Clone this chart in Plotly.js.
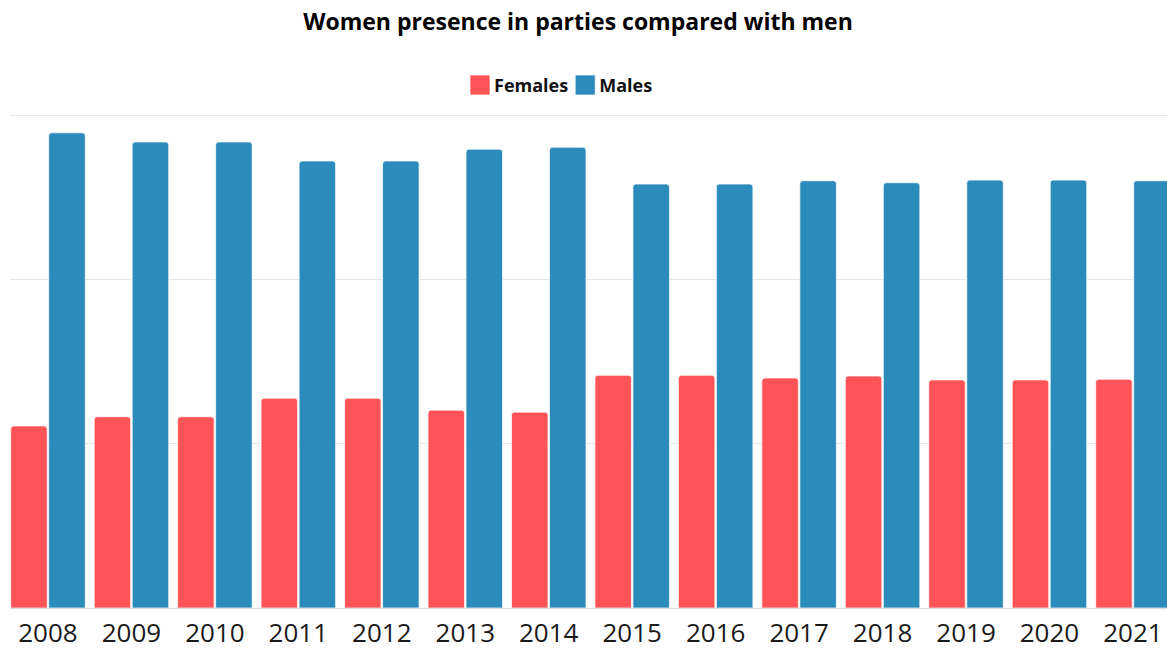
<!DOCTYPE html>
<html>
<head>
<meta charset="utf-8">
<script src="https://cdn.plot.ly/plotly-3.0.1.min.js"></script>
<style>html,body{margin:0;padding:0;background:#fff;}#chart{width:1167px;height:649px;}</style>
</head>
<body>
<div id="chart"></div>
<script>
const years = ["2008","2009","2010","2011","2012","2013","2014","2015","2016","2017","2018","2019","2020","2021"];
const females = [27.7, 29.1, 29.1, 31.9, 31.9, 30.1, 29.8, 35.4, 35.4, 35.0, 35.3, 34.7, 34.7, 34.8];
const males = [72.3, 70.9, 70.9, 68.0, 68.0, 69.8, 70.1, 64.5, 64.5, 65.0, 64.7, 65.1, 65.1, 65.0];

const traces = [
  {type:'bar', name:'Females', x:years, y:females,
   marker:{color:'#FF5457', cornerradius:3, line:{color:'rgba(255,255,255,0.7)', width:1}}},
  {type:'bar', name:'Males', x:years, y:males,
   marker:{color:'#2B8BBB', cornerradius:3, line:{color:'rgba(255,255,255,0.7)', width:1}}}
];

const layout = {
  width:1167, height:649,
  margin:{l:10, r:0, t:108, b:41},
  paper_bgcolor:'#fff', plot_bgcolor:'#fff',
  font:{family:'"Open Sans", sans-serif', color:'#111'},
  title:{text:'<b>Women presence in parties compared with men</b>', x:578/1167, xref:'container', xanchor:'center',
         y:1-22/649, yref:'container', yanchor:'middle', font:{size:23, color:'#000'}},
  showlegend:true,
  legend:{orientation:'h', x:0.478, xanchor:'center', y:1-84/649, yref:'container', yanchor:'middle',
          font:{size:18, color:'#111', weight:'bold'}, itemwidth:30, traceorder:'normal'},
  barmode:'group', bargap:0.089, bargroupgap:0.04,
  xaxis:{type:'category', range:[-0.455, 13.408], showgrid:false, showline:false, ticks:'',
         tickfont:{size:26, color:'#1a1a1a'}, ticklabelstandoff:7, fixedrange:true},
  yaxis:{range:[0, 76.07], tickvals:[0,25,50,75], showticklabels:false, showgrid:true, gridcolor:'#e6e6e6', gridwidth:1,
         zeroline:true, zerolinecolor:'#dcdcdc', zerolinewidth:1, showline:false, ticks:''}
};

function parseT(el){
  const m = /translate\(\s*([-\d.e]+)[ ,]+([-\d.e]+)\s*\)/.exec(el.getAttribute('transform')||'');
  return m ? [parseFloat(m[1]), parseFloat(m[2])] : [0,0];
}
function fixLegend(){
  const leg = document.querySelector('.legend');
  if(!leg) return;
  const items = leg.querySelectorAll('g.traces');
  items.forEach(g=>{
    g.querySelectorAll('.legendpoints path').forEach(p=>p.setAttribute('d','M10,10H-10V-10H10Z'));
    const t = g.querySelector('text.legendtext');
    if(t) t.setAttribute('x', 34);
  });
  if(items.length>1){
    const t1 = items[0].querySelector('text.legendtext').getBoundingClientRect();
    const s2 = items[1].querySelector('.legendpoints path').getBoundingClientRect();
    const dx = (t1.right + 7) - s2.left;
    const p = parseT(items[1]);
    items[1].setAttribute('transform', 'translate(' + (p[0]+dx) + ',' + p[1] + ')');
  }
  const s1 = items[0].querySelector('.legendpoints path').getBoundingClientRect();
  const lp = parseT(leg);
  leg.setAttribute('transform', 'translate(' + (lp[0] + 470 - s1.left) + ',' + (lp[1] + 75 - s1.top) + ')');
  const sb = leg.querySelector('.scrollbox'); if(sb) sb.removeAttribute('clip-path');
}

Plotly.newPlot('chart', traces, layout, {displayModeBar:false, staticPlot:true}).then(fixLegend);
</script>
</body>
</html>
